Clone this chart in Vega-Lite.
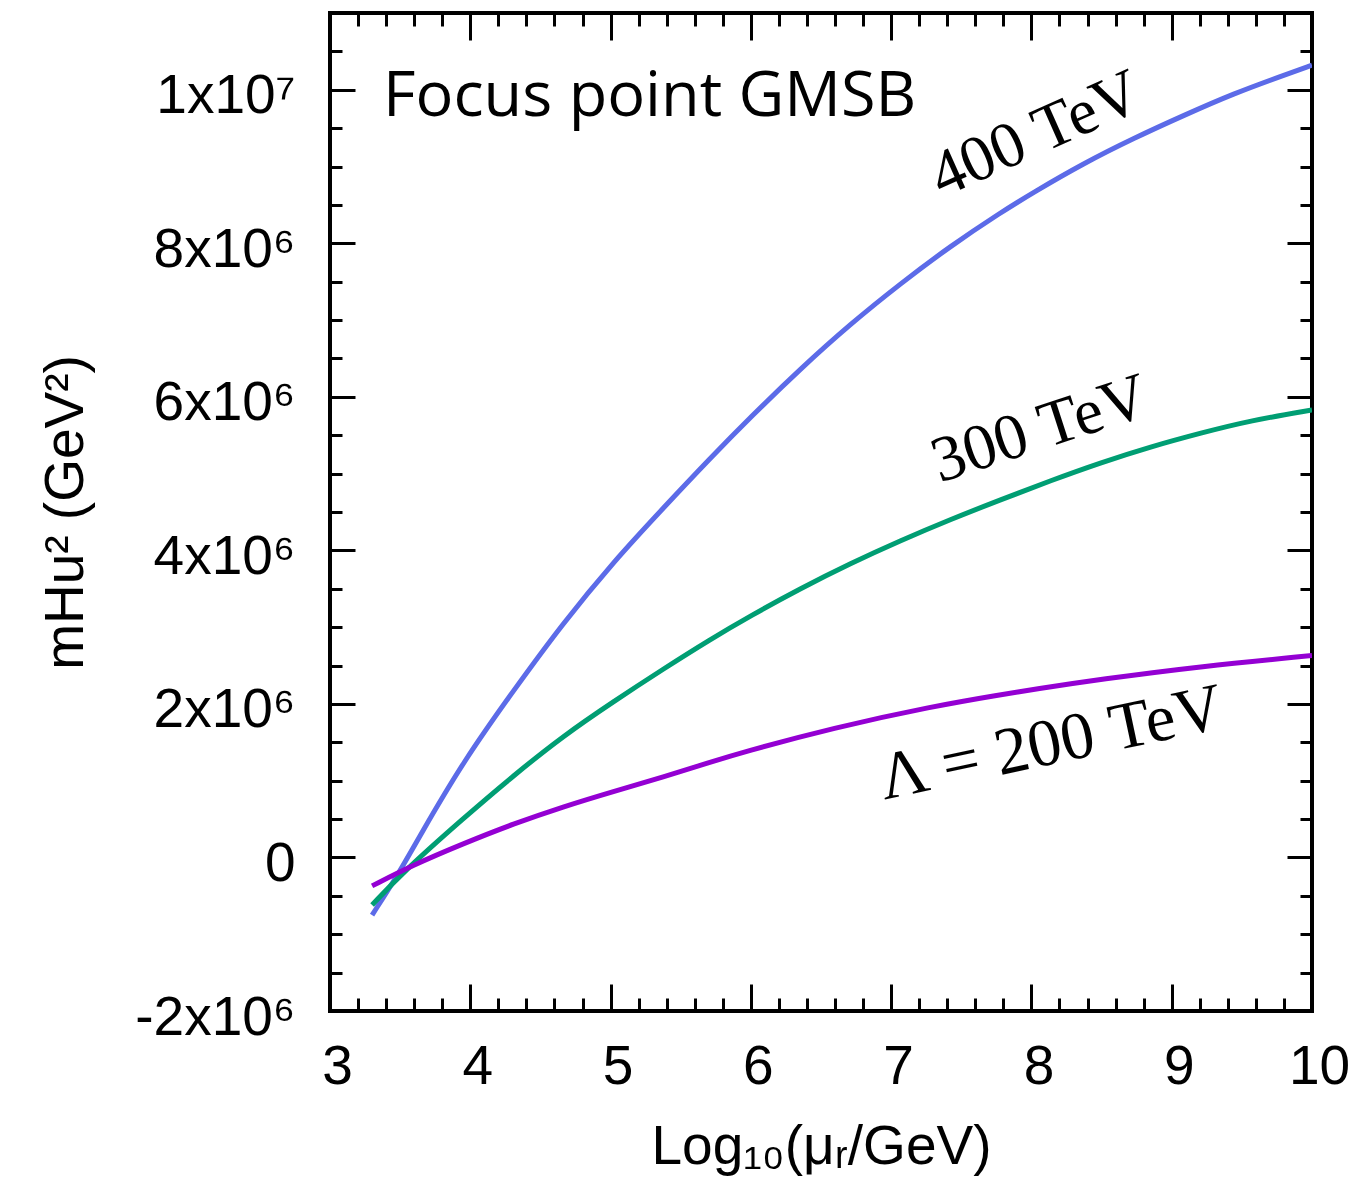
{
  "$schema": "https://vega.github.io/schema/vega-lite/v6.json",
  "width": 982,
  "height": 998,
  "autosize": {"type": "none"},
  "padding": {"left": 330, "top": 13, "right": 55, "bottom": 180},
  "background": "white",
  "config": {
    "view": {"stroke": "black", "strokeWidth": 4},
    "axis": {
      "grid": false,
      "domain": false,
      "tickColor": "black",
      "tickWidth": 3,
      "labelFont": "Liberation Sans",
      "labelFontSize": 55,
      "labelColor": "black",
      "labelOverlap": false,
      "labelFlush": false,
      "labelBound": false,
      "titleFont": "Liberation Sans",
      "titleFontSize": 55,
      "titleFontWeight": "normal",
      "titleColor": "black"
    }
  },
  "datasets": {
    "curves": [
      {"Lambda": "400 TeV", "logmu": 3.30, "mHu2": -750000},
      {"Lambda": "400 TeV", "logmu": 3.48, "mHu2": -240000},
      {"Lambda": "400 TeV", "logmu": 3.64, "mHu2": 280000},
      {"Lambda": "400 TeV", "logmu": 3.95, "mHu2": 1250000},
      {"Lambda": "400 TeV", "logmu": 4.31, "mHu2": 2180000},
      {"Lambda": "400 TeV", "logmu": 4.66, "mHu2": 3050000},
      {"Lambda": "400 TeV", "logmu": 5.02, "mHu2": 3850000},
      {"Lambda": "400 TeV", "logmu": 5.38, "mHu2": 4560000},
      {"Lambda": "400 TeV", "logmu": 5.71, "mHu2": 5200000},
      {"Lambda": "400 TeV", "logmu": 6.00, "mHu2": 5740000},
      {"Lambda": "400 TeV", "logmu": 6.35, "mHu2": 6360000},
      {"Lambda": "400 TeV", "logmu": 6.71, "mHu2": 6950000},
      {"Lambda": "400 TeV", "logmu": 7.07, "mHu2": 7480000},
      {"Lambda": "400 TeV", "logmu": 7.42, "mHu2": 7960000},
      {"Lambda": "400 TeV", "logmu": 7.78, "mHu2": 8400000},
      {"Lambda": "400 TeV", "logmu": 8.02, "mHu2": 8670000},
      {"Lambda": "400 TeV", "logmu": 8.37, "mHu2": 9040000},
      {"Lambda": "400 TeV", "logmu": 8.73, "mHu2": 9370000},
      {"Lambda": "400 TeV", "logmu": 9.09, "mHu2": 9670000},
      {"Lambda": "400 TeV", "logmu": 9.44, "mHu2": 9950000},
      {"Lambda": "400 TeV", "logmu": 9.80, "mHu2": 10190000},
      {"Lambda": "400 TeV", "logmu": 10.0, "mHu2": 10320000},
      {"Lambda": "300 TeV", "logmu": 3.30, "mHu2": -620000},
      {"Lambda": "300 TeV", "logmu": 3.52, "mHu2": -190000},
      {"Lambda": "300 TeV", "logmu": 3.95, "mHu2": 510000},
      {"Lambda": "300 TeV", "logmu": 4.31, "mHu2": 1070000},
      {"Lambda": "300 TeV", "logmu": 4.66, "mHu2": 1580000},
      {"Lambda": "300 TeV", "logmu": 5.02, "mHu2": 2030000},
      {"Lambda": "300 TeV", "logmu": 5.38, "mHu2": 2460000},
      {"Lambda": "300 TeV", "logmu": 5.71, "mHu2": 2840000},
      {"Lambda": "300 TeV", "logmu": 6.00, "mHu2": 3150000},
      {"Lambda": "300 TeV", "logmu": 6.35, "mHu2": 3500000},
      {"Lambda": "300 TeV", "logmu": 6.71, "mHu2": 3830000},
      {"Lambda": "300 TeV", "logmu": 7.07, "mHu2": 4130000},
      {"Lambda": "300 TeV", "logmu": 7.42, "mHu2": 4400000},
      {"Lambda": "300 TeV", "logmu": 7.78, "mHu2": 4660000},
      {"Lambda": "300 TeV", "logmu": 8.14, "mHu2": 4910000},
      {"Lambda": "300 TeV", "logmu": 8.49, "mHu2": 5140000},
      {"Lambda": "300 TeV", "logmu": 8.85, "mHu2": 5350000},
      {"Lambda": "300 TeV", "logmu": 9.21, "mHu2": 5530000},
      {"Lambda": "300 TeV", "logmu": 9.56, "mHu2": 5690000},
      {"Lambda": "300 TeV", "logmu": 10.0, "mHu2": 5830000},
      {"Lambda": "200 TeV", "logmu": 3.30, "mHu2": -370000},
      {"Lambda": "200 TeV", "logmu": 3.59, "mHu2": -100000},
      {"Lambda": "200 TeV", "logmu": 3.95, "mHu2": 180000},
      {"Lambda": "200 TeV", "logmu": 4.31, "mHu2": 440000},
      {"Lambda": "200 TeV", "logmu": 4.66, "mHu2": 660000},
      {"Lambda": "200 TeV", "logmu": 5.02, "mHu2": 860000},
      {"Lambda": "200 TeV", "logmu": 5.38, "mHu2": 1050000},
      {"Lambda": "200 TeV", "logmu": 5.71, "mHu2": 1240000},
      {"Lambda": "200 TeV", "logmu": 5.92, "mHu2": 1360000},
      {"Lambda": "200 TeV", "logmu": 6.59, "mHu2": 1690000},
      {"Lambda": "200 TeV", "logmu": 7.30, "mHu2": 1970000},
      {"Lambda": "200 TeV", "logmu": 7.78, "mHu2": 2120000},
      {"Lambda": "200 TeV", "logmu": 8.02, "mHu2": 2190000},
      {"Lambda": "200 TeV", "logmu": 8.49, "mHu2": 2320000},
      {"Lambda": "200 TeV", "logmu": 9.21, "mHu2": 2490000},
      {"Lambda": "200 TeV", "logmu": 10.0, "mHu2": 2630000}
    ]
  },
  "layer": [
    {
      "data": {"name": "curves"},
      "mark": {"type": "line", "strokeWidth": 5, "interpolate": "basis", "clip": true},
      "encoding": {
        "x": {
          "field": "logmu", "type": "quantitative",
          "scale": {"domain": [3, 10], "nice": false, "zero": false},
          "axis": {
            "orient": "bottom",
            "values": [3, 3.2, 3.4, 3.6, 3.8, 4, 4.2, 4.4, 4.6, 4.8, 5, 5.2, 5.4, 5.6, 5.8, 6, 6.2, 6.4, 6.6, 6.8, 7, 7.2, 7.4, 7.6, 7.8, 8, 8.2, 8.4, 8.6, 8.8, 9, 9.2, 9.4, 9.6, 9.8, 10],
            "tickSize": {"condition": {"test": "datum.value % 1 === 0", "value": -27}, "value": -13},
            "labelExpr": "datum.value % 1 === 0 ? format(datum.value, 'd') : ''",
            "labelPadding": 56,
            "labelOffset": 7,
            "title": "Log₁₀(μᵣ/GeV)",
            "titlePadding": 12
          }
        },
        "y": {
          "field": "mHu2", "type": "quantitative",
          "scale": {"domain": [-2000000, 11000000], "nice": false, "zero": false},
          "axis": {
            "orient": "left",
            "values": [-2000000, -1500000, -1000000, -500000, 0, 500000, 1000000, 1500000, 2000000, 2500000, 3000000, 3500000, 4000000, 4500000, 5000000, 5500000, 6000000, 6500000, 7000000, 7500000, 8000000, 8500000, 9000000, 9500000, 10000000, 10500000, 11000000],
            "tickSize": {"condition": {"test": "datum.value % 2000000 === 0", "value": -25}, "value": -12},
            "labelExpr": "datum.value === 0 ? '0' : (datum.value % 2000000 !== 0 ? '' : (datum.value === 10000000 ? '1x10⁷' : (datum.value / 1000000) + 'x10⁶'))",
            "labelPadding": 60,
            "labelOffset": 6,
            "title": "mHu² (GeV²)",
            "titlePadding": 40
          }
        },
        "color": {
          "field": "Lambda", "type": "nominal",
          "scale": {"domain": ["200 TeV", "300 TeV", "400 TeV"], "range": ["#9400D3", "#009E73", "#5C6BE8"]},
          "legend": null
        }
      }
    },
    {
      "data": {"name": "curves"},
      "mark": {"type": "line", "opacity": 0},
      "encoding": {
        "x": {
          "field": "logmu", "type": "quantitative",
          "axis": {
            "orient": "top",
            "values": [3, 3.2, 3.4, 3.6, 3.8, 4, 4.2, 4.4, 4.6, 4.8, 5, 5.2, 5.4, 5.6, 5.8, 6, 6.2, 6.4, 6.6, 6.8, 7, 7.2, 7.4, 7.6, 7.8, 8, 8.2, 8.4, 8.6, 8.8, 9, 9.2, 9.4, 9.6, 9.8, 10],
            "tickSize": {"condition": {"test": "datum.value % 1 === 0", "value": -27}, "value": -13},
            "labels": false,
            "title": null
          }
        },
        "y": {
          "field": "mHu2", "type": "quantitative",
          "axis": {
            "orient": "right",
            "values": [-2000000, -1500000, -1000000, -500000, 0, 500000, 1000000, 1500000, 2000000, 2500000, 3000000, 3500000, 4000000, 4500000, 5000000, 5500000, 6000000, 6500000, 7000000, 7500000, 8000000, 8500000, 9000000, 9500000, 10000000, 10500000, 11000000],
            "tickSize": {"condition": {"test": "datum.value % 2000000 === 0", "value": -25}, "value": -12},
            "labels": false,
            "title": null
          }
        },
        "detail": {"field": "Lambda", "type": "nominal"}
      }
    },
    {
      "data": {"values": [{"x": 3.378, "y": 9660000, "text": "Focus point GMSB"}]},
      "mark": {"type": "text", "font": "Open Sans", "fontSize": 63, "align": "left", "baseline": "alphabetic", "color": "black"},
      "encoding": {
        "x": {"field": "x", "type": "quantitative", "axis": null},
        "y": {"field": "y", "type": "quantitative", "axis": null},
        "text": {"field": "text"}
      }
    },
    {
      "data": {"values": [{"x": 8.03, "y": 9420000, "text": "400 TeV"}]},
      "mark": {"type": "text", "font": "Liberation Serif", "fontSize": 65, "align": "center", "baseline": "middle", "angle": 336, "color": "black"},
      "encoding": {
        "x": {"field": "x", "type": "quantitative", "axis": null},
        "y": {"field": "y", "type": "quantitative", "axis": null},
        "text": {"field": "text"}
      }
    },
    {
      "data": {"values": [{"x": 8.06, "y": 5580000, "text": "300 TeV"}]},
      "mark": {"type": "text", "font": "Liberation Serif", "fontSize": 65, "align": "center", "baseline": "middle", "angle": 342, "color": "black"},
      "encoding": {
        "x": {"field": "x", "type": "quantitative", "axis": null},
        "y": {"field": "y", "type": "quantitative", "axis": null},
        "text": {"field": "text"}
      }
    },
    {
      "data": {"values": [{"x": 8.14, "y": 1480000, "text": "Λ = 200 TeV"}]},
      "mark": {"type": "text", "font": "Liberation Serif", "fontSize": 67, "align": "center", "baseline": "middle", "angle": 348, "color": "black"},
      "encoding": {
        "x": {"field": "x", "type": "quantitative", "axis": null},
        "y": {"field": "y", "type": "quantitative", "axis": null},
        "text": {"field": "text"}
      }
    }
  ],
  "resolve": {"axis": {"x": "independent", "y": "independent"}}
}
